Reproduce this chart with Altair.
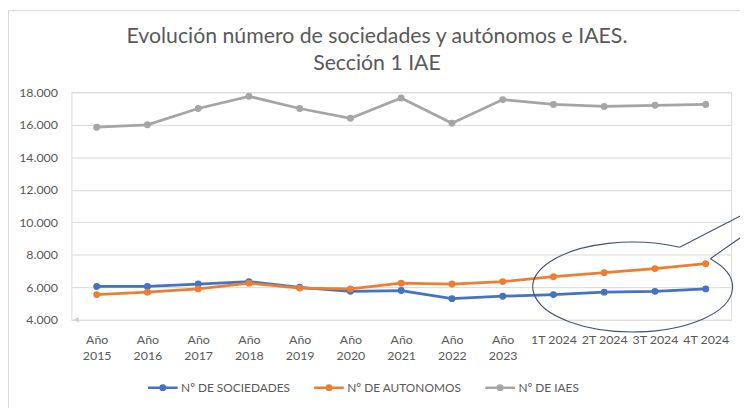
import altair as alt
import pandas as pd

categorias = ["Año 2015", "Año 2016", "Año 2017", "Año 2018", "Año 2019", "Año 2020",
              "Año 2021", "Año 2022", "Año 2023", "1T 2024", "2T 2024", "3T 2024", "4T 2024"]
sociedades = [6050, 6050, 6200, 6350, 6000, 5750, 5800, 5300, 5450, 5550, 5700, 5750, 5900]
autonomos = [5550, 5700, 5900, 6250, 5950, 5900, 6250, 6200, 6350, 6650, 6900, 7150, 7450]
iaes = [15850, 16000, 17000, 17750, 17000, 16400, 17650, 16100, 17550, 17250, 17130, 17200, 17250]
series = ["Nº DE SOCIEDADES", "Nº DE AUTONOMOS", "Nº DE IAES"]
colores = ["#4472C4", "#ED7D31", "#A5A5A5"]
y_ticks = [4000, 6000, 8000, 10000, 12000, 14000, 16000, 18000]
titulo = ["Evolución número de sociedades y autónomos e IAES.", "Sección 1 IAE"]

rows = []
for s, vals in zip(series, [sociedades, autonomos, iaes]):
    for c, v in zip(categorias, vals):
        rows.append({"cat": c, "serie": s, "valor": v})
df = pd.DataFrame(rows)

FONT = "Lato"
TXT = "#595959"

x_enc = alt.X("cat:N", sort=categorias,
              scale=alt.Scale(type="point", padding=0.5),
              axis=alt.Axis(title=None, labelAngle=0, ticks=False, domain=False,
                            labelFont=FONT, labelFontSize=12.5, labelColor=TXT,
                            labelPadding=14, labelLineHeight=16,
                            labelExpr="indexof(datum.value, 'Año') == 0 ? split(datum.value, ' ') : datum.value"))
y_enc = alt.Y("valor:Q", scale=alt.Scale(domain=[4000, 18000], nice=False, zero=False),
              axis=alt.Axis(title=None, values=y_ticks, ticks=False,
                            domain=True, domainColor="#e8e8e8",
                            gridColor="#d9d9d9", gridWidth=1,
                            labelFont=FONT, labelFontSize=12.5, labelColor=TXT,
                            labelPadding=14, labelOverlap=False,
                            labelExpr="replace(format(datum.value, ','), ',', '.')"))

legend_sym = ("M -1 0 L 1 0 "
              "M -0.15 0 A 0.15 0.15 0 1 1 0.15 0 A 0.15 0.15 0 1 1 -0.15 0 "
              "M -0.05 0 A 0.05 0.05 0 1 1 0.05 0 A 0.05 0.05 0 1 1 -0.05 0")

lines = alt.Chart(df).mark_line(
    strokeWidth=2.8,
    point=alt.OverlayMarkDef(filled=True, size=48, opacity=1)
).encode(
    x=x_enc,
    y=y_enc,
    color=alt.Color("serie:N", sort=series,
                    scale=alt.Scale(domain=series, range=colores),
                    legend=alt.Legend(title=None, orient="none", direction="horizontal",
                                      legendX=76, legendY=282,
                                      symbolType=legend_sym, symbolSize=900,
                                      symbolStrokeWidth=2.5,
                                      labelFont=FONT, labelFontSize=12, labelColor=TXT,
                                      labelOffset=2, columnPadding=18)),
    order=alt.Order("serie:N", sort="descending"),
)

ellipse_path = ("M 0.465 -0.40 A 1 0.45 0 1 0 0.772 -0.286 "
                "M 0.465 -0.40 L 1.495 -0.933 "
                "M 0.772 -0.286 L 1.495 -0.79")
callout_df = pd.DataFrame({"cat": ["3T 2024"], "valor": [6000]})
callout = alt.Chart(callout_df).mark_point(
    shape=ellipse_path, size=40804, filled=False, stroke="#44546A",
    strokeWidth=1.1, opacity=1, xOffset=-22
).encode(x=x_enc, y=y_enc)

arrow_df = pd.DataFrame({"valor": [4000]})
arrow = alt.Chart(arrow_df).mark_point(
    shape="triangle-left", filled=True, color="#d0d0d0", size=30, opacity=1
).encode(x=alt.value(5), y=y_enc)

frame = alt.Chart(arrow_df).mark_rect(
    fill=None, stroke="#d9d9d9", strokeWidth=1
).encode(x=alt.value(-63.5), x2=alt.value(900), y=alt.value(-82.5), y2=alt.value(600))

title_df = pd.DataFrame({"t": titulo, "line": [0, 1]})
title1 = alt.Chart(title_df.iloc[[0]]).mark_text(
    font=FONT, fontSize=21.5, color=TXT, align="center", baseline="alphabetic"
).encode(text="t:N", x=alt.value(309), y=alt.value(-49.5))
title2 = alt.Chart(title_df.iloc[[1]]).mark_text(
    font=FONT, fontSize=21.5, color=TXT, align="center", baseline="alphabetic"
).encode(text="t:N", x=alt.value(309), y=alt.value(-23))

chart = alt.layer(frame, lines, callout, arrow, title1, title2).properties(
    width=667, height=230,
    autosize=alt.AutoSizeParams(type="none"),
    padding={"left": 64, "top": 83, "right": 9, "bottom": 87},
).configure_view(stroke=None).configure(background="white")

chart.save("out.html", embed_options={"renderer": "svg", "actions": False})
